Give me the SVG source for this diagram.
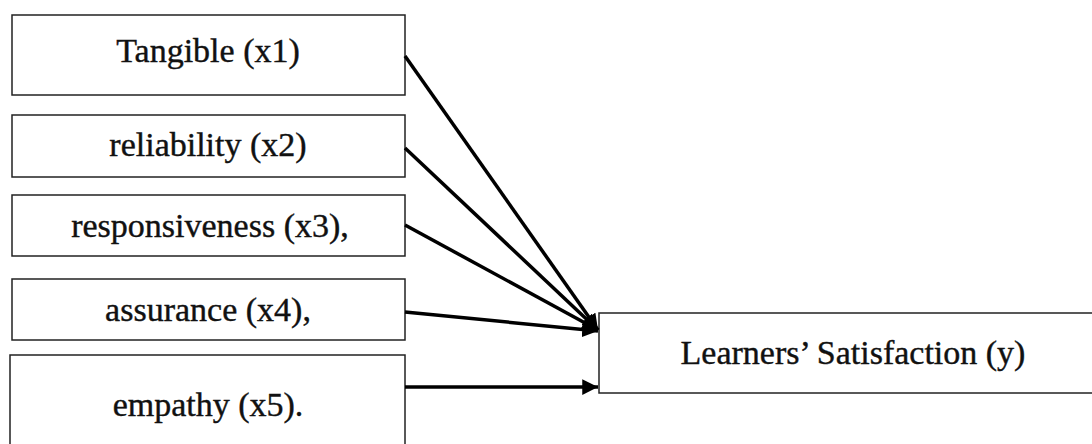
<svg xmlns="http://www.w3.org/2000/svg" width="1092" height="444" viewBox="0 0 1092 444">
<style>
.box{fill:#fff;stroke:#222;stroke-width:1.5}
.t{font-family:"Liberation Serif",serif;font-size:34px;fill:#111;stroke:#111;stroke-width:0.4;text-anchor:middle}
.c{stroke:#000;stroke-width:3.5;fill:none}
</style>
<defs>
<marker id="ah" viewBox="0 0 10 10" refX="10" refY="5" markerWidth="4.5" markerHeight="4.5" orient="auto" markerUnits="strokeWidth">
<path d="M0,0 L10,5 L0,10 z" fill="#000"/>
</marker>
</defs>
<rect width="1092" height="444" fill="#fff"/>
<g id="n1"><rect class="box" x="12" y="15" width="393" height="80"/><text class="t" x="208" y="62">Tangible (x1)</text></g>
<g id="n2"><rect class="box" x="12" y="115" width="393" height="62"/><text class="t" x="208" y="156">reliability (x2)</text></g>
<g id="n3"><rect class="box" x="12" y="195" width="393" height="61"/><text class="t" x="210" y="237">responsiveness (x3),</text></g>
<g id="n4"><rect class="box" x="12" y="279" width="393" height="61"/><text class="t" x="208" y="321">assurance (x4),</text></g>
<g id="n5"><rect class="box" x="10" y="355" width="395" height="100"/><text class="t" x="208" y="416">empathy (x5).</text></g>
<g id="ny"><rect class="box" x="599" y="313" width="500" height="80"/><text class="t" x="853" y="364">Learners’ Satisfaction (y)</text></g>
<g id="connectors">
<line class="c" x1="405" y1="56" x2="598" y2="330" marker-end="url(#ah)"/>
<line class="c" x1="405" y1="148" x2="598" y2="330" marker-end="url(#ah)"/>
<line class="c" x1="405" y1="225" x2="598" y2="330" marker-end="url(#ah)"/>
<line class="c" x1="405" y1="312" x2="598" y2="331" marker-end="url(#ah)"/>
<line class="c" x1="405" y1="387" x2="598" y2="387" marker-end="url(#ah)"/>
</g>
</svg>
